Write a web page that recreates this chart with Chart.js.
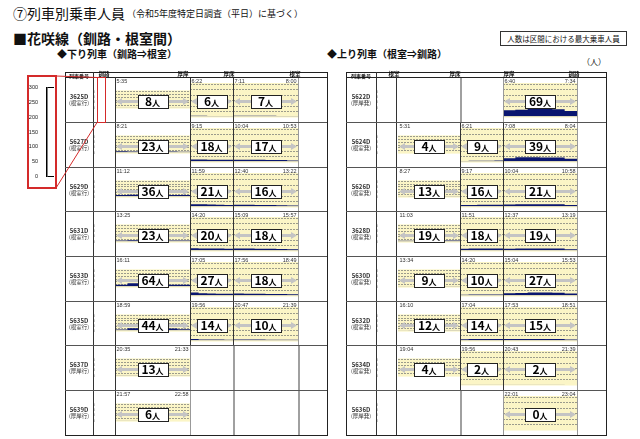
<!DOCTYPE html>
<html lang="ja">
<head>
<meta charset="utf-8">
<script src="https://cdn.jsdelivr.net/npm/chart.js@4.4.0/dist/chart.umd.min.js"></script>
<style>
  body { margin: 0; width: 640px; height: 439px; position: relative; overflow: hidden; background: #fff;
         font-family: "Noto Sans CJK JP", "Noto Sans", sans-serif; }
  .t { position: absolute; white-space: nowrap; line-height: 1; color: #111; }
  .ln { position: absolute; }
  canvas { position: absolute; }
</style>
</head>
<body>
<div class="t" style="left:13px;top:6px;font-size:14px;">⑦列車別乗車人員</div>
<div class="t" style="left:127px;top:9px;font-size:9px;">（令和5年度特定日調査（平日）に基づく）</div>
<div class="t" style="left:13px;top:31px;font-size:14px;font-weight:bold;">■花咲線（釧路・根室間）</div>
<div class="t" style="left:57px;top:49px;font-size:10px;font-weight:bold;">◆下り列車（釧路⇒根室）</div>
<div class="t" style="left:327px;top:49px;font-size:10px;font-weight:bold;">◆上り列車（根室⇒釧路）</div>
<div class="t" style="left:500px;top:31px;width:127px;height:15px;border:1px solid #333;box-sizing:border-box;font-size:7.5px;text-align:center;padding-top:3px;">人数は区間における最大乗車人員</div>
<div class="t" style="left:582px;top:58px;font-size:8px;">（人）</div>

<script>
// Axis ticks (persons)
const yTicks = [0, 50, 100, 150, 200, 250, 300];

// Down trains (釧路 -> 根室)
const downStations = ['釧路', '厚岸', '厚床', '根室'];
const downTrains = ['3625D', '5627D', '5629D', '5631D', '5633D', '5635D', '5637D', '5639D'];
const downNotes = ['(根室行)', '(根室行)', '(根室行)', '(根室行)', '(根室行)', '(根室行)', '(厚岸行)', '(厚岸行)'];
const downTimes = [
    ['5:35', '6:22', '7:11', '8:00'],
    ['8:21', '9:15', '10:04', '10:53'],
    ['11:12', '11:59', '12:40', '13:22'],
    ['13:25', '14:20', '15:09', '15:57'],
    ['16:11', '17:05', '17:56', '18:49'],
    ['18:59', '19:56', '20:47', '21:39'],
    ['20:35', '21:33', null, null],
    ['21:57', '22:58', null, null]
];
const downMax = [[8, 6, 7], [23, 18, 17], [36, 21, 16], [23, 20, 18], [64, 27, 18], [44, 14, 10], [13, null, null], [6, null, null]];
// load between stops inside each section
const downLoads = [
    [[8, 8, 7, 7, 6, 6], [6, 6, 5, 5, 4], [7, 7, 6, 6, 5, 4]],
    [[23, 22, 21, 20, 19, 18], [18, 18, 17, 16, 16], [17, 17, 16, 15, 14, 10]],
    [[30, 36, 36, 35, 34, 30], [21, 20, 18, 17, 15], [16, 16, 15, 14, 12, 10]],
    [[20, 23, 23, 22, 22, 21], [20, 19, 18, 18, 17], [18, 18, 17, 16, 15, 12]],
    [[36, 64, 40, 38, 36, 34], [27, 20, 18, 17, 16], [18, 17, 16, 15, 14, 12]],
    [[20, 44, 44, 43, 42, 25], [14, 10, 10, 9, 8], [10, 9, 9, 8, 8, 6]],
    [[13, 12, 12, 11, 10, 9], null, null],
    [[6, 6, 5, 5, 4, 4], null, null]
];

// Up trains (根室 -> 釧路)
const upStations = ['根室', '厚床', '厚岸', '釧路'];
const upTrains = ['5622D', '5624D', '5626D', '3628D', '5630D', '5632D', '5634D', '5636D'];
const upNotes = ['(厚岸発)', '(根室発)', '(根室発)', '(根室発)', '(根室発)', '(根室発)', '(根室発)', '(厚岸発)'];
const upTimes = [
    [null, null, '6:40', '7:34'],
    ['5:31', '6:21', '7:08', '8:04'],
    ['8:27', '9:17', '10:04', '10:58'],
    ['11:03', '11:51', '12:37', '13:19'],
    ['13:34', '14:20', '15:04', '15:53'],
    ['16:10', '17:04', '17:53', '18:51'],
    ['19:04', '19:56', '20:43', '21:39'],
    [null, null, '22:01', '23:04']
];
const upMax = [[null, null, 69], [4, 9, 39], [13, 16, 21], [19, 18, 19], [9, 10, 27], [12, 14, 15], [4, 2, 2], [null, null, 0]];
const upLoads = [
    [null, null, [58, 62, 69, 69, 68, 50]],
    [[2, 3, 4, 4, 4, 4], [5, 6, 7, 8, 9], [30, 39, 39, 38, 36, 25]],
    [[8, 10, 12, 13, 13, 13], [14, 15, 16, 16, 16], [18, 20, 21, 21, 20, 15]],
    [[15, 17, 18, 19, 19, 19], [17, 18, 18, 18, 18], [16, 18, 19, 19, 18, 12]],
    [[5, 7, 8, 9, 9, 9], [8, 9, 10, 10, 10], [20, 24, 27, 27, 25, 18]],
    [[8, 10, 11, 12, 12, 12], [12, 13, 14, 14, 14], [14, 15, 15, 15, 14, 10]],
    [[2, 3, 4, 4, 4, 4], [2, 2, 2, 2, 2], [2, 2, 2, 2, 2, 1]],
    [null, null, [0, 0, 0, 0, 0, 0]]
];

// Layout of the two tables
const rowTops = [77, 122, 167, 211, 256, 301, 345, 390, 435];
const leftCols = [65, 93, 115, 190, 233, 298, 327];
const rightCols = [346, 376, 396, 460, 503, 577, 606];
const leftStationX = [104, 183, 229, 295];
const rightStationX = [394, 455, 509, 574];

const NAVY = '#0a1670';
const YELLOW = '#fbf5c6';
const PLOT_TOP = 7;
const PLOT_BOTTOM = 39.5;

// Draws the yellow band, dashed grid, arrow, value box and times of a cell
const cellDecor = {
    id: 'cellDecor',
    beforeDatasetsDraw(chart, args, opts) {
        if (!opts.served) return;
        const { ctx, chartArea: a, scales: { y } } = chart;
        ctx.save();
        ctx.fillStyle = YELLOW;
        ctx.fillRect(a.left, a.top - 1, a.right - a.left, a.bottom - a.top + 2);
        ctx.strokeStyle = '#9b9b8c';
        ctx.lineWidth = 1;
        ctx.setLineDash([2, 1]);
        yTicks.forEach(v => {
            if (v === 0) return;
            const py = Math.round(y.getPixelForValue(v)) + 0.5;
            ctx.beginPath();
            ctx.moveTo(a.left, py);
            ctx.lineTo(a.right, py);
            ctx.stroke();
        });
        ctx.restore();
    },
    afterDraw(chart, args, opts) {
        if (!opts.served) return;
        const { ctx, chartArea: a } = chart;
        const cy = 24.5;
        const mid = (a.left + a.right) / 2;
        ctx.save();

        // double arrow
        ctx.strokeStyle = '#c4c4c4';
        ctx.fillStyle = '#c4c4c4';
        ctx.lineWidth = 3;
        ctx.beginPath();
        ctx.moveTo(a.left + 5, cy);
        ctx.lineTo(a.right - 5, cy);
        ctx.stroke();
        [[a.left + 1, 1], [a.right - 1, -1]].forEach(([tip, dir]) => {
            ctx.beginPath();
            ctx.moveTo(tip, cy);
            ctx.lineTo(tip + dir * 6, cy - 3.5);
            ctx.lineTo(tip + dir * 6, cy + 3.5);
            ctx.closePath();
            ctx.fill();
        });

        // value box
        const bw = 30, bh = 13;
        const bx = Math.round(mid - bw / 2) + 0.5;
        const by = Math.round(cy - bh / 2) + 0.5;
        ctx.fillStyle = '#fff';
        ctx.fillRect(bx, by, bw, bh);
        ctx.strokeStyle = '#222';
        ctx.lineWidth = 1;
        ctx.strokeRect(bx, by, bw, bh);

        const num = String(opts.max);
        ctx.fillStyle = '#000';
        ctx.textBaseline = 'alphabetic';
        ctx.textAlign = 'left';
        ctx.font = 'bold 12px "Noto Sans CJK JP"';
        const w1 = ctx.measureText(num).width;
        ctx.font = 'bold 8px "Noto Sans CJK JP"';
        const w2 = ctx.measureText('人').width;
        const tx = mid - (w1 + w2) / 2;
        ctx.font = 'bold 12px "Noto Sans CJK JP"';
        ctx.fillText(num, tx, cy + 4.5);
        ctx.font = 'bold 8px "Noto Sans CJK JP"';
        ctx.fillText('人', tx + w1, cy + 4.5);

        // times
        ctx.font = '5.5px "Liberation Sans"';
        ctx.fillStyle = '#333';
        ctx.textBaseline = 'middle';
        if (opts.tLeft) {
            ctx.textAlign = 'left';
            ctx.fillText(opts.tLeft, a.left + 1.5, 4);
        }
        if (opts.tRight) {
            ctx.textAlign = 'right';
            ctx.fillText(opts.tRight, a.right - 1.5, 4);
        }
        ctx.restore();
    }
};

function addLine(x, y, w, h, color) {
    const d = document.createElement('div');
    d.className = 'ln';
    d.style.cssText = `left:${x}px;top:${y}px;width:${w}px;height:${h}px;background:${color};`;
    document.body.appendChild(d);
}

function addText(s, x, y, size, opts = {}) {
    const d = document.createElement('div');
    d.className = 't';
    d.textContent = s;
    d.style.left = x + 'px';
    d.style.top = y + 'px';
    d.style.fontSize = size + 'px';
    d.style.transform = `translate(${opts.center ? '-50%' : '0'}, -50%)`;
    if (opts.bold) d.style.fontWeight = 'bold';
    if (opts.color) d.style.color = opts.color;
    document.body.appendChild(d);
}

// One small chart per cell (section of a train row)
function makeCell(x0, x1, top, h, loads, max, tLeft, tRight, withAxis) {
    const cv = document.createElement('canvas');
    cv.width = x1 - x0;
    cv.height = h;
    cv.style.left = x0 + 'px';
    cv.style.top = top + 'px';
    document.body.appendChild(cv);

    const served = Array.isArray(loads);
    const n = served ? loads.length : 6;
    const points = served ? loads.concat([loads[loads.length - 1]]).map((v, i) => ({ x: i, y: v })) : [];

    new Chart(cv, {
        type: 'line',
        data: {
            datasets: served ? [{
                data: points,
                stepped: true,
                fill: 'origin',
                backgroundColor: NAVY,
                borderColor: NAVY,
                borderWidth: 0,
                pointRadius: 0
            }] : []
        },
        options: {
            responsive: false,
            animation: false,
            devicePixelRatio: 1,
            events: [],
            layout: { padding: { top: PLOT_TOP, bottom: h - PLOT_BOTTOM, left: 0, right: 0 } },
            plugins: {
                legend: { display: false },
                tooltip: { enabled: false },
                cellDecor: { served, max, tLeft, tRight }
            },
            scales: {
                x: { type: 'linear', min: 0, max: n, display: false },
                y: {
                    min: 0,
                    max: 300,
                    display: withAxis,
                    afterBuildTicks: s => { s.ticks = yTicks.map(v => ({ value: v })); },
                    afterFit: s => { s.width = withAxis ? 22 : 0; },
                    grid: { display: false },
                    border: { display: false },
                    ticks: { font: { size: 4, family: 'Liberation Sans' }, color: '#777', padding: 12 }
                }
            }
        },
        plugins: [cellDecor]
    });
}

function buildTable(cols, stationX, stations, trains, notes, times, maxes, loads) {
    // cells
    trains.forEach((train, r) => {
        const top = rowTops[r];
        const h = rowTops[r + 1] - top;
        for (let s = 0; s < 3; s++) {
            const served = Array.isArray(loads[r][s]);
            const lastServed = served && (s === 2 || !Array.isArray(loads[r][s + 1]));
            makeCell(s === 0 ? cols[1] : cols[s + 2], cols[s + 3], top, h,
                loads[r][s], maxes[r][s], served ? times[r][s] : null,
                lastServed ? times[r][s + 1] : null, s === 0);
        }
    });

    // grid lines
    const bottom = rowTops[rowTops.length - 1];
    addLine(cols[0], 72, cols[6] - cols[0], 1, '#222');
    addLine(cols[0], 77, cols[6] - cols[0], 1, '#222');
    addLine(cols[0], bottom, cols[6] - cols[0] + 1, 1, '#222');
    addLine(cols[0], 72, 1, bottom - 72, '#222');
    addLine(cols[6], 72, 1, bottom - 72, '#222');
    addLine(cols[1], 72, 1, bottom - 72, '#333');
    addLine(cols[2], 77, 1, bottom - 77, '#333');
    for (let r = 1; r < trains.length; r++) {
        addLine(cols[0], rowTops[r] - 0.5, cols[6] - cols[0], 1.5, '#555');
    }
    trains.forEach((train, r) => {
        const top = rowTops[r] + 1;
        const h = rowTops[r + 1] - rowTops[r] - 1;
        for (let b = 0; b < 3; b++) {
            const leftOn = Array.isArray(loads[r][b]);
            const rightOn = b < 2 && Array.isArray(loads[r][b + 1]);
            if (leftOn && rightOn) addLine(cols[b + 3], top, 1, h, '#333');
            else if (leftOn || rightOn) addLine(cols[b + 3], top, 1, h, '#999');
            else addLine(cols[b + 3] - 0.5, top, 2, h, '#a0a0a0');
        }
    });

    // header
    addText('列車番号', (cols[0] + cols[1]) / 2, 74.8, 5, { center: true, bold: true });
    stations.forEach((name, i) => addText(name, stationX[i], 74.8, 5.5, { center: true, bold: true }));

    // train labels
    trains.forEach((train, r) => {
        const cx = (cols[0] + cols[1]) / 2;
        addText(train, cx, rowTops[r] + 20, 6, { center: true, color: '#333', bold: true });
        addText(notes[r], cx, rowTops[r] + 27, 5.5, { center: true, color: '#333' });
    });
}

buildTable(leftCols, leftStationX, downStations, downTrains, downNotes, downTimes, downMax, downLoads);
buildTable(rightCols, rightStationX, upStations, upTrains, upNotes, upTimes, upMax, upLoads);

// Legend axis inside the red box
const axisCv = document.createElement('canvas');
axisCv.width = 30;
axisCv.height = 114;
axisCv.style.left = '27px';
axisCv.style.top = '75px';
document.body.appendChild(axisCv);
new Chart(axisCv, {
    type: 'line',
    data: { datasets: [] },
    options: {
        responsive: false,
        animation: false,
        devicePixelRatio: 1,
        events: [],
        layout: { padding: { top: 10.5, bottom: 5, left: 0, right: 3 } },
        plugins: { legend: { display: false }, tooltip: { enabled: false } },
        scales: {
            x: { type: 'linear', min: 0, max: 1, display: false },
            y: {
                min: 0,
                max: 300,
                afterBuildTicks: s => { s.ticks = yTicks.map(v => ({ value: v })); },
                afterFit: s => { s.width = 20; },
                ticks: { font: { size: 5.5, family: 'Liberation Sans' }, color: '#222', padding: 9 },
                grid: {
                    drawTicks: false,
                    lineWidth: 1,
                    color: c => (c.tick && (c.tick.value === 0 || c.tick.value === 300)) ? '#000' : 'rgba(0,0,0,0)'
                },
                border: { display: true, color: '#000', width: 1.5 }
            }
        }
    }
});

// red frames and connecting lines
const redFrame = document.createElement('div');
redFrame.className = 'ln';
redFrame.style.cssText = 'left:27px;top:75px;width:30px;height:114px;border:2px solid #d42a2a;box-sizing:border-box;';
document.body.appendChild(redFrame);
const smallFrame = document.createElement('div');
smallFrame.className = 'ln';
smallFrame.style.cssText = 'left:97px;top:77px;width:9px;height:46px;border:1.5px solid #d42a2a;box-sizing:border-box;';
document.body.appendChild(smallFrame);
document.body.insertAdjacentHTML('beforeend',
    '<svg width="640" height="439" style="position:absolute;left:0;top:0;pointer-events:none">' +
    '<line x1="56" y1="76" x2="97" y2="77.5" stroke="#d42a2a" stroke-width="1"/>' +
    '<line x1="56" y1="188" x2="97" y2="122.5" stroke="#d42a2a" stroke-width="1"/></svg>');
</script>
</body>
</html>
